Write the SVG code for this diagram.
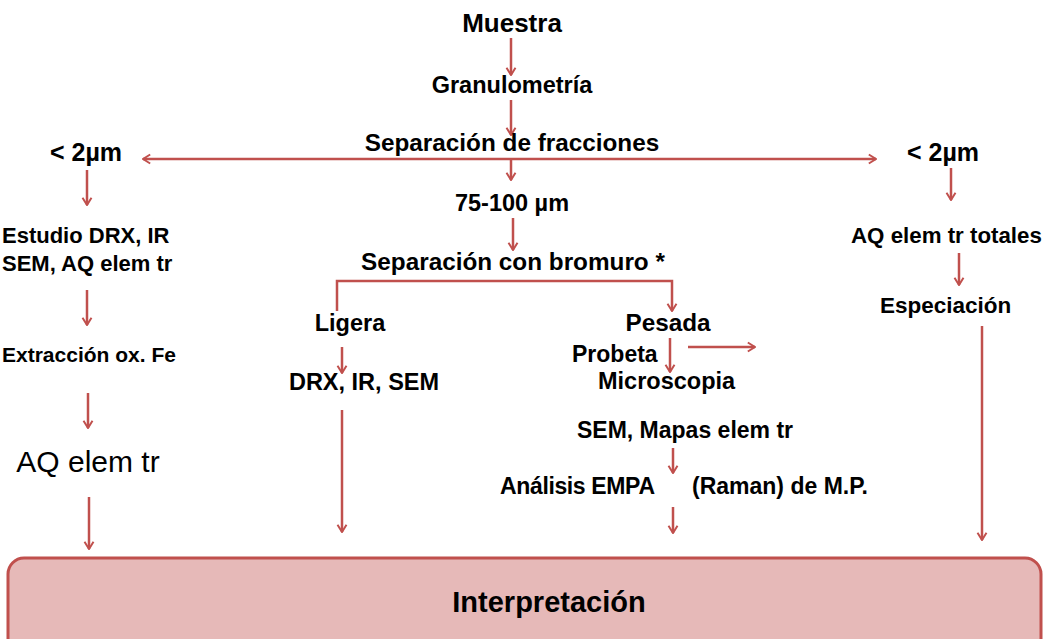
<svg xmlns="http://www.w3.org/2000/svg" width="1045" height="639" viewBox="0 0 1045 639">
<defs>
<style>
.t{font-family:"Liberation Sans",Arial,sans-serif;font-weight:bold;font-size:23.5px;fill:#000}
.c{stroke:#C0504D;stroke-width:2.5;fill:none}
</style>
<marker id="ah" viewBox="0 0 10 12" refX="9" refY="6" markerWidth="9" markerHeight="13" markerUnits="userSpaceOnUse" orient="auto-start-reverse">
<path d="M1,1 L9,6 L1,11" fill="none" stroke="#C0504D" stroke-width="2.2"/>
</marker>
</defs>
<rect width="1045" height="639" fill="#fff"/>
<g id="connectors" class="c" marker-end="url(#ah)">
<path d="M511,38 V75"/>
<path d="M511,100 V135"/>
<path d="M143,159 H876" marker-start="url(#ah)"/>
<path d="M511,160 V180"/>
<path d="M513,218 V250"/>
<path d="M337,311 V281 H672 V311"/>
<path d="M342,347 V373"/>
<path d="M342,410 V532"/>
<path d="M670,338 V372"/>
<path d="M688,347 H755"/>
<path d="M673,448 V473"/>
<path d="M673,507 V533"/>
<path d="M87,170 V205"/>
<path d="M87,290 V325"/>
<path d="M88,393 V428"/>
<path d="M89,497 V549"/>
<path d="M951,168 V200"/>
<path d="M959,253 V285"/>
<path d="M982,326 V540"/>
</g>
<g id="muestra"><text class="t" x="512" y="32" text-anchor="middle" style="font-size:26px">Muestra</text></g>
<g id="granulometria"><text class="t" x="512" y="93" text-anchor="middle">Granulometría</text></g>
<g id="separacion"><text class="t" x="512" y="151" text-anchor="middle" style="font-size:24.3px">Separación de fracciones</text></g>
<g id="f75"><text class="t" x="512" y="211" text-anchor="middle">75-100 µm</text></g>
<g id="bromuro"><text class="t" x="513" y="270" text-anchor="middle" style="font-size:24.3px">Separación con bromuro *</text></g>
<g id="ligera"><text class="t" x="350" y="331" text-anchor="middle">Ligera</text></g>
<g id="drx"><text class="t" x="364" y="390" text-anchor="middle">DRX, IR, SEM</text></g>
<g id="pesada"><text class="t" x="668" y="331" text-anchor="middle" style="font-size:24.3px">Pesada</text></g>
<g id="probeta"><text class="t" x="572" y="362" style="font-size:23px">Probeta</text></g>
<g id="microscopia"><text class="t" x="598" y="389">Microscopia</text></g>
<g id="sem-mapas"><text class="t" x="577" y="438" style="font-size:23px">SEM, Mapas elem tr</text></g>
<g id="empa"><text class="t" x="500" y="494" style="font-size:23px" textLength="155">Análisis EMPA</text></g>
<g id="raman"><text class="t" x="692" y="494" style="font-size:23px">(Raman) de M.P.</text></g>
<g id="l2um"><text class="t" x="86" y="161" text-anchor="middle" style="font-size:25px">&lt; 2µm</text></g>
<g id="estudio"><text class="t" x="2" y="243" style="font-size:22px">Estudio DRX, IR</text><text class="t" x="2" y="271" style="font-size:22px">SEM, AQ elem tr</text></g>
<g id="extraccion"><text class="t" x="2" y="362" style="font-size:21px">Extracción ox. Fe</text></g>
<g id="aq-left"><text x="88" y="472" text-anchor="middle" style="font-family:'Liberation Sans',Arial,sans-serif;font-size:30px;fill:#000">AQ elem tr</text></g>
<g id="r2um"><text class="t" x="907" y="161" style="font-size:25px">&lt; 2µm</text></g>
<g id="aq-totales"><text class="t" x="851" y="243" style="font-size:22.3px">AQ elem tr totales</text></g>
<g id="especiacion"><text class="t" x="880" y="313" style="font-size:22.5px">Especiación</text></g>
<g id="interpretacion">
<rect x="8" y="558" width="1033" height="100" rx="16" fill="#E6B9B8" stroke="#C0504D" stroke-width="3"/>
<text class="t" x="549" y="612" text-anchor="middle" style="font-size:29px">Interpretación</text>
</g>
</svg>
